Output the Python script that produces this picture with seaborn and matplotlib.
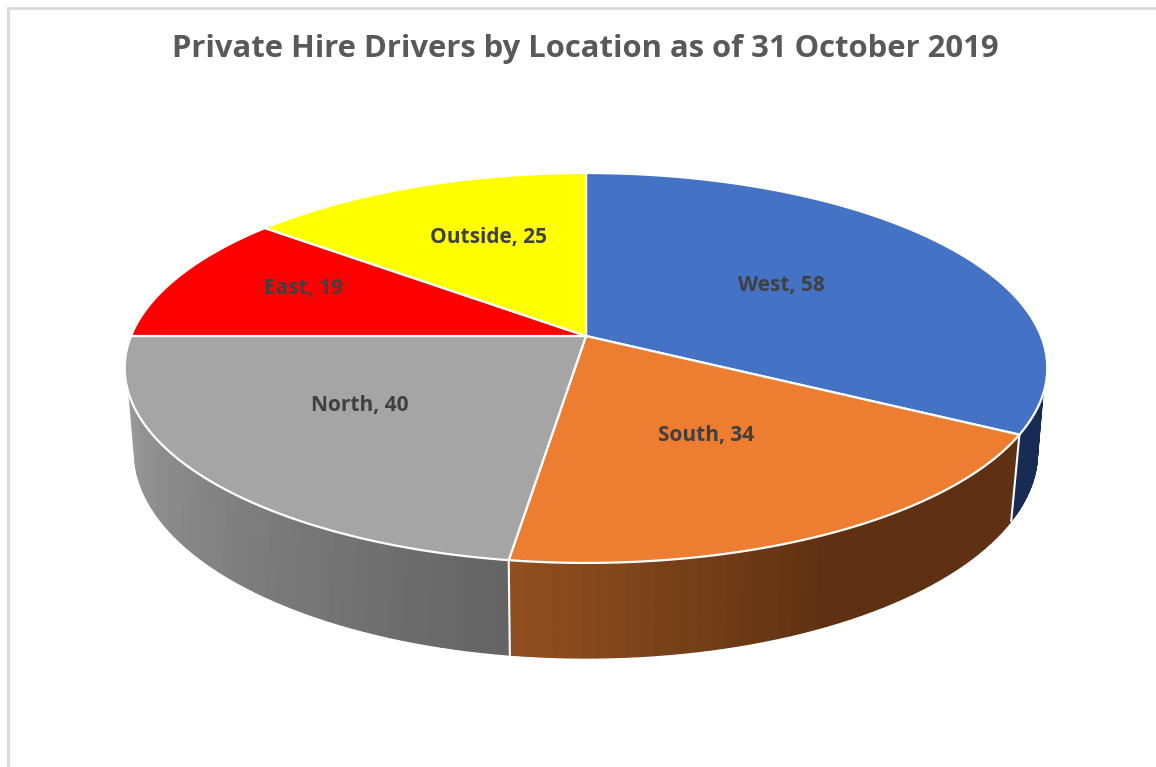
import numpy as np
import matplotlib
matplotlib.use("Agg")
import matplotlib.pyplot as plt
import seaborn as sns

locations = ["West", "South", "North", "East", "Outside"]
drivers = [58, 34, 40, 19, 25]
title = "Private Hire Drivers by Location as of 31 October 2019"

top_colors = ["#4472C4", "#ED7D31", "#A5A5A5", "#FF0000", "#FFFF00"]
# wall shading: start/end colour of each slice going left to right on screen
wall_colors = {
    "West": ["#172C54", "#172C54"],
    "South": ["#8F4F20", "#5F3112", "#5F3112"],
    "North": ["#989898", "#646464"],
}
label_xy = [(781, 286), (706, 436), (360, 406), (304, 289), (489, 238)]

sns.set_theme(style="white")
plt.rcParams["font.family"] = ["Open Sans", "DejaVu Sans"]


# tilted disc: angle is clockwise from 12 o'clock, perspective squeezes the far side
def top_edge(theta, r=1.0):
    u, v = r * np.sin(theta), r * np.cos(theta)
    s = 1 / (1 + 0.164 * v)
    return 586 + 455 * u * s, 336 - 189.7 * v * s


def bottom_edge(theta):
    u, v = np.sin(theta), np.cos(theta)
    s = 1 / (1 + 0.17 * v)
    return 586 + 445 * u * s, 416.5 - 200.4 * v * s


fig = plt.figure(figsize=(11.56, 7.67), dpi=100)
ax = fig.add_axes([8 / 1156, 0, 1 - 8 / 1156, 1 - 8 / 767])
ax.set_xlim(8, 1156)
ax.set_ylim(767, 8)
ax.set_xticks([])
ax.set_yticks([])
for side in ["right", "bottom"]:
    ax.spines[side].set_visible(False)
for side in ["left", "top"]:
    ax.spines[side].set_color("#D9D9D9")
    ax.spines[side].set_linewidth(2)

edges = np.radians(np.concatenate([[0], np.cumsum(drivers)]) / np.sum(drivers) * 360)

# the wall shows between these angles, bottom rim reaches slightly further round
wall_top = np.radians([107.2, 252.8])
wall_bottom = np.radians([103, 257])

for i, name in enumerate(locations):
    if name not in wall_colors:
        continue
    a0, a1 = edges[i], edges[i + 1]
    t0, t1 = max(a0, wall_top[0]), min(a1, wall_top[1])
    b0, b1 = max(a0, wall_bottom[0]), min(a1, wall_bottom[1])
    n = 45
    shades = sns.blend_palette(wall_colors[name], n)
    tt = np.linspace(t0, t1, n + 1)
    bb = np.linspace(b0, b1, n + 1)
    # walls run right to left with the angle, palette runs left to right
    # strips painted in order so each one covers the seam of the last
    for k in range(n):
        seg_t = np.linspace(tt[k], tt[k + 1], 4)
        seg_b = np.linspace(bb[k + 1], bb[k], 4)
        xt, yt = top_edge(seg_t)
        xb, yb = bottom_edge(seg_b)
        ax.fill(np.r_[xt, xb], np.r_[yt, yb], facecolor=shades[n - 1 - k],
                edgecolor=shades[n - 1 - k], lw=1.0, zorder=2)

for edge in edges[1:]:
    if wall_top[0] < edge < wall_top[1]:
        xt, yt = top_edge(edge)
        xb, yb = bottom_edge(edge)
        ax.plot([xt, xb], [yt, yb], color="white", lw=1.5, zorder=3)

for i, name in enumerate(locations):
    arc = np.linspace(edges[i], edges[i + 1], 150)
    x, y = top_edge(arc)
    ax.fill(np.r_[586, x], np.r_[336, y], facecolor=top_colors[i], edgecolor="white",
            lw=1.6, joinstyle="round", zorder=4)
    ax.text(label_xy[i][0], label_xy[i][1], f"{name}, {drivers[i]}", ha="center", va="center",
            fontsize=15, fontweight="bold", color="#404040", zorder=5)

ax.text(585, 49, title, ha="center", va="center", fontsize=22.3, fontweight="bold", color="#595959")

fig.savefig("out.png", dpi=100)
